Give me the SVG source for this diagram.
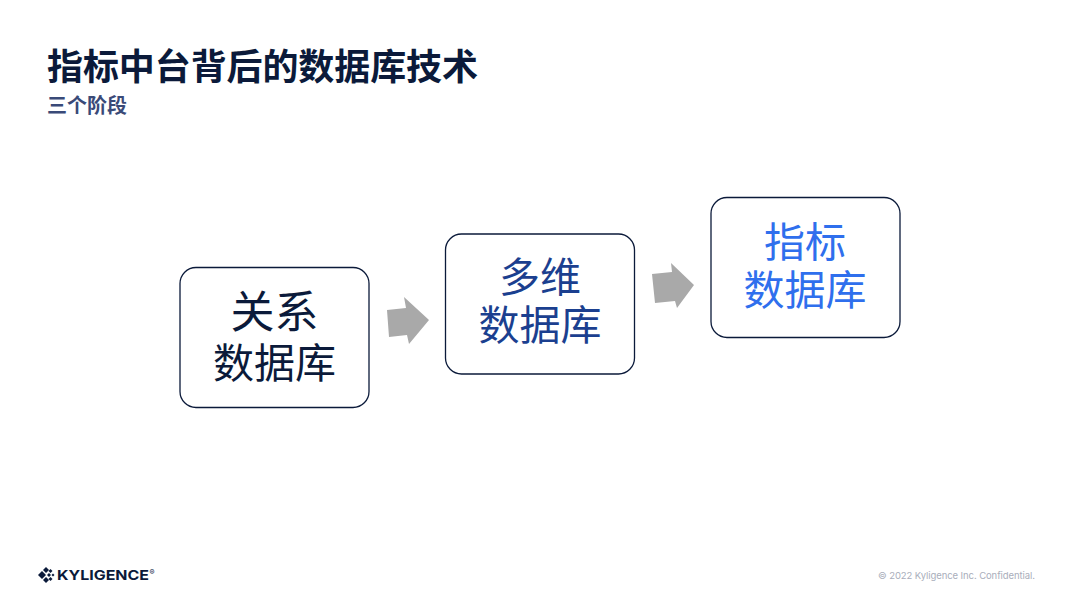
<svg xmlns="http://www.w3.org/2000/svg" width="1080" height="608" viewBox="0 0 1080 608">
<style>
.cjk{font-family:"Noto Sans CJK SC","Noto Sans",sans-serif}
.box{fill:#fff;stroke:#0b1a3a;stroke-width:1.3}
.lab{font-size:41px;text-anchor:middle;font-weight:400}
.arr{fill:#a9a9a9}
.lat{font-family:"Inter","Noto Sans",sans-serif}
</style>
<rect width="1080" height="608" fill="#fff"/>
<text id="title" class="cjk" x="47" y="80" font-size="36" font-weight="700" fill="#0b1a3a" textLength="431" lengthAdjust="spacing">指标中台背后的数据库技术</text>
<text id="subtitle" class="cjk" x="47" y="113" font-size="20" font-weight="700" fill="#3a4a78">三个阶段</text>
<g id="connectors">
<path class="arr" d="M387 310 L406 308 L404 297 L429 320 L409 344 L407 335 L389 337 Z"/>
<path class="arr" d="M652 274 L672 272 L671 263 L694 285 L677 308 L675 301 L655 303 Z"/>
</g>
<g id="node1">
<rect class="box" x="180" y="267.500" width="189" height="140" rx="16"/>
<text class="cjk lab" fill="#0b1a3a"><tspan x="274.500" y="328" font-size="44">关系</tspan><tspan x="274.500" y="378">数据库</tspan></text>
</g>
<g id="node2">
<rect class="box" x="445.500" y="234" width="189" height="140" rx="16"/>
<text class="cjk lab" fill="#1b3f8f"><tspan x="540" y="292">多维</tspan><tspan x="540" y="340">数据库</tspan></text>
</g>
<g id="node3">
<rect class="box" x="711" y="197.500" width="189" height="140" rx="16"/>
<text class="cjk lab" fill="#2f6fed"><tspan x="805" y="257">指标</tspan><tspan x="805" y="305">数据库</tspan></text>
</g>
<g id="logo">
<g fill="#0b1a3a">
<path d="M38 575 L42 571 L46 575 L42 579 Z"/>
<path d="M43 570 L46 567 L49 570 L46 573 Z"/>
<path d="M43 580 L46 583 L49 580 L46 577 Z"/>
<path d="M47 575 L49 573 L51 575 L49 577 Z"/>
<path d="M48.500 571 L50.500 569 L52.500 571 L50.500 573 Z"/>
<path d="M48.500 579 L50.500 581 L52.500 579 L50.500 577 Z"/>
<path d="M51.500 575 L53 573.500 L54.500 575 L53 576.500 Z"/>
</g>
<text class="lat" x="57" y="580" font-size="13.500" font-weight="700" fill="#0b1a3a" textLength="92" lengthAdjust="spacingAndGlyphs">KYLIGENCE</text>
<text class="lat" x="149.500" y="575" font-size="7.500" fill="#0b1a3a">®</text>
</g>
<text id="footer" class="lat" x="1035" y="579" font-size="9.500" text-anchor="end" fill="#a9aebb" textLength="157" lengthAdjust="spacing">© 2022 Kyligence Inc. Confidential.</text>
</svg>
